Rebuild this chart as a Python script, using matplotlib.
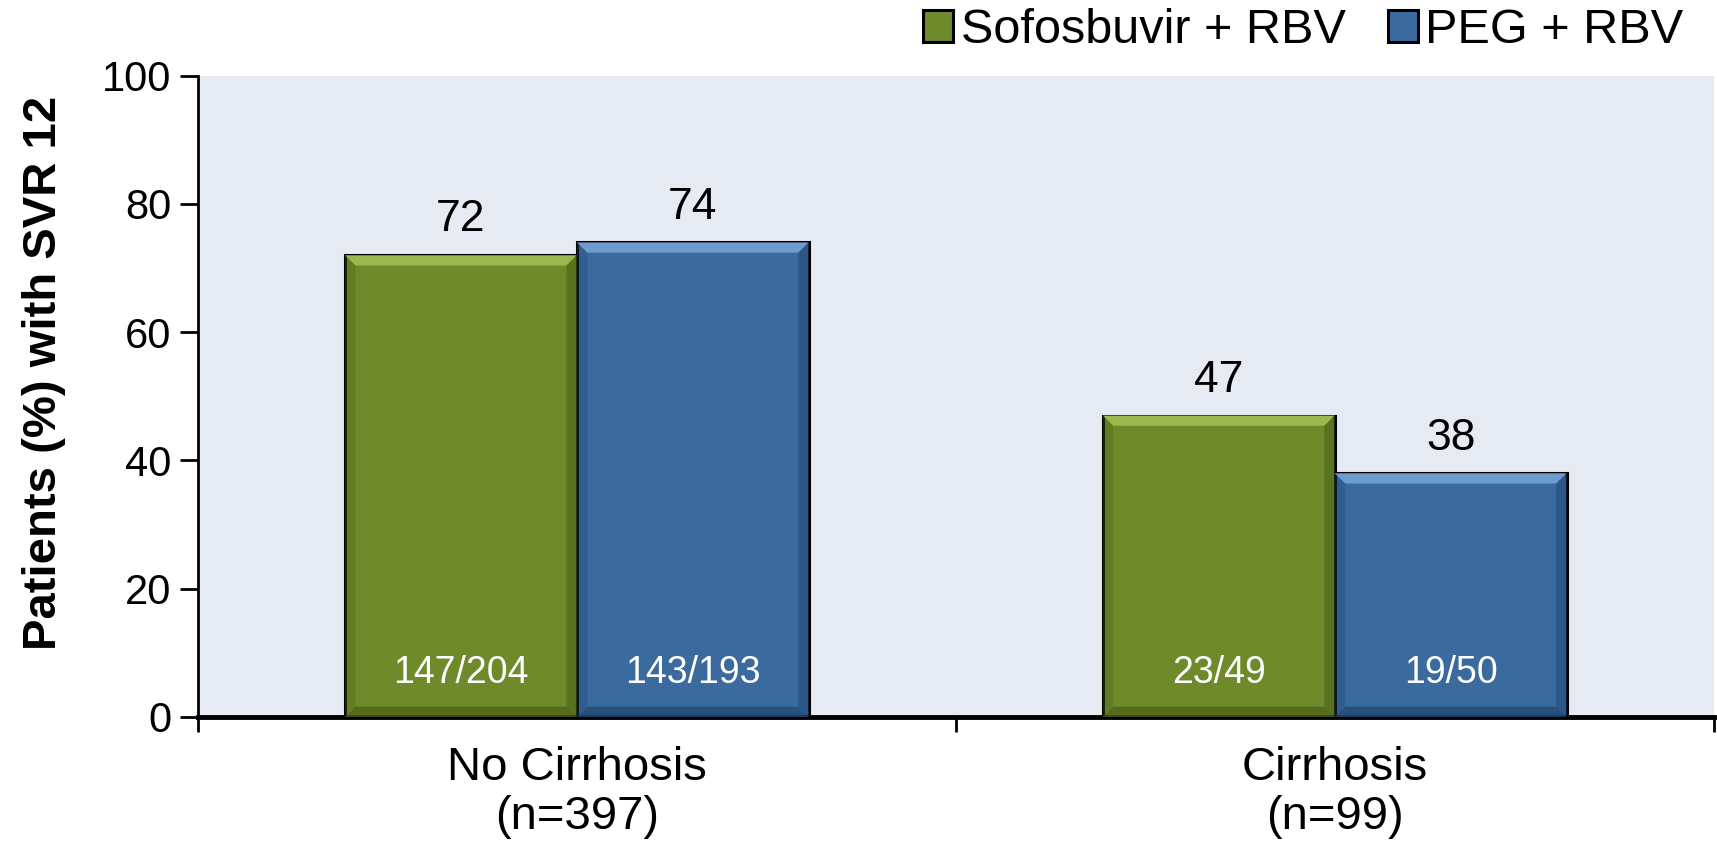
import matplotlib.pyplot as plt
import numpy as np
from matplotlib.patches import Polygon

plt.rcParams["font.family"] = ["Liberation Sans", "DejaVu Sans"]

categories = ["No Cirrhosis\n(n=397)", "Cirrhosis\n(n=99)"]
series_names = ["Sofosbuvir + RBV", "PEG + RBV"]
sofos_values = [72, 47]
peg_values = [74, 38]
sofos_counts = ["147/204", "23/49"]
peg_counts = ["143/193", "19/50"]

colors = ["#6E8A2A", "#3A6A9E"]
light = ["#9BB84E", "#6E9CCF"]
dark = ["#4E6319", "#234A75"]

fig = plt.figure(figsize=(17.17, 8.41), dpi=100)
ax = fig.add_axes([0.1153, 0.1475, 0.8827, 0.7625])
ax.set_facecolor("#E6EAF2")

x = np.arange(len(categories))
width = 0.306


def bevel(bar, k):
    x0, y0 = bar.get_x(), bar.get_y()
    w, h = bar.get_width(), bar.get_height()
    dx, dy = w * 0.045, 1.6
    # top highlight and side shading
    ax.add_patch(Polygon([(x0, y0 + h), (x0 + w, y0 + h), (x0 + w - dx, y0 + h - dy),
                          (x0 + dx, y0 + h - dy)], closed=True, fc=light[k], ec="none", zorder=3))
    ax.add_patch(Polygon([(x0 + w, y0 + h), (x0 + w, y0), (x0 + w - dx, y0 + dy),
                          (x0 + w - dx, y0 + h - dy)], closed=True, fc=dark[k], ec="none", alpha=0.6, zorder=3))
    ax.add_patch(Polygon([(x0, y0), (x0 + w, y0), (x0 + w - dx, y0 + dy),
                          (x0 + dx, y0 + dy)], closed=True, fc=dark[k], ec="none", alpha=0.8, zorder=3))
    ax.add_patch(Polygon([(x0, y0 + h), (x0, y0), (x0 + dx, y0 + dy),
                          (x0 + dx, y0 + h - dy)], closed=True, fc=dark[k], ec="none", alpha=0.35, zorder=3))


for k, (vals, counts) in enumerate([(sofos_values, sofos_counts), (peg_values, peg_counts)]):
    offset = (k - 0.5) * width
    bars = ax.bar(x + offset, vals, width, color=colors[k], edgecolor="black",
                  linewidth=2.2, zorder=2, label=series_names[k])
    for b, v, c in zip(bars, vals, counts):
        bevel(b, k)
        cx = b.get_x() + b.get_width() / 2
        ax.text(cx, v + 2.3, str(v), ha="center", va="bottom", fontsize=32, zorder=5)
        ax.text(cx, 6.9, c, ha="center", va="center", fontsize=27, color="white", zorder=5)

ax.set_xlim(-0.5, len(categories) - 0.5)
ax.set_ylim(0, 100)
ax.set_yticks(range(0, 101, 20))
ax.tick_params(axis="y", labelsize=30, length=13, width=2, direction="out", pad=6)
ax.set_xticks(np.arange(-0.5, len(categories)), minor=False)
ax.set_xticklabels([])
ax.tick_params(axis="x", length=11, width=2, direction="out")
for xi, lab in zip(x, categories):
    ax.text(xi, -4.5, lab, ha="center", va="top", fontsize=34, transform=ax.transData,
            linespacing=1.15)

for s in ["top", "right"]:
    ax.spines[s].set_visible(False)
ax.spines["left"].set_linewidth(2)
ax.spines["bottom"].set_linewidth(3.5)

ax.set_ylabel("Patients (%) with SVR 12", fontsize=34, fontweight="bold")
ax.yaxis.set_label_coords(-0.087, 0.537)

leg = ax.legend(loc="lower right", bbox_to_anchor=(0.993, 1.005), ncol=2, frameon=False,
                fontsize=35, handlelength=0.62, handleheight=0.62, handletextpad=0.15,
                columnspacing=0.87, borderaxespad=0.0)

fig.savefig("out.png", dpi=100)
